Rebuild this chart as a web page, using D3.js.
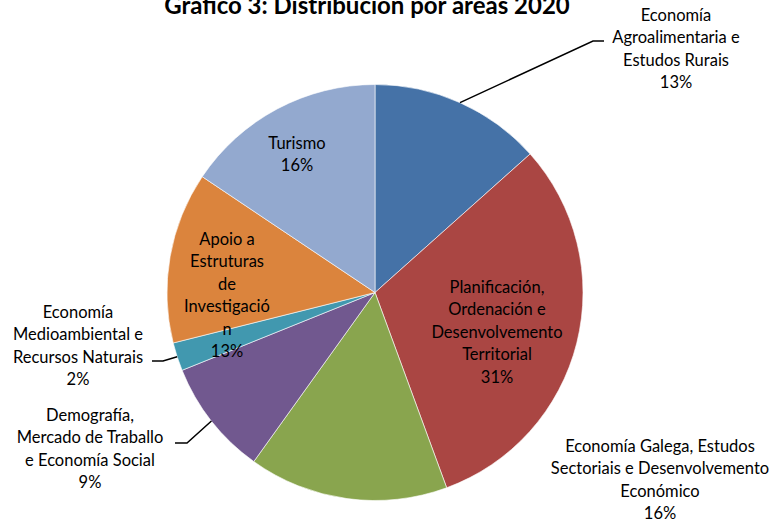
<!DOCTYPE html>
<html><head><meta charset="utf-8">
<script src="https://cdn.jsdelivr.net/npm/d3@7"></script>
<style>body{margin:0;background:#fff}svg{display:block}text{font-family:Lato,"Open Sans",sans-serif;fill:#000}</style>
</head><body><div id="chart"></div>
<script>
const categories = [
  "Economía Agroalimentaria e Estudos Rurais",
  "Planificación, Ordenación e Desenvolvemento Territorial",
  "Economía Galega, Estudos Sectoriais e Desenvolvemento Económico",
  "Demografía, Mercado de Traballo e Economía Social",
  "Economía Medioambiental e Recursos Naturais",
  "Apoio a Estruturas de Investigación",
  "Turismo"
];
const values = [13.4, 31.0, 15.5, 9.0, 2.2, 13.3, 15.6];
const percentLabels = ["13%", "31%", "16%", "9%", "2%", "13%", "16%"];
const labelLines = [
  ["Economía", "Agroalimentaria e", "Estudos Rurais"],
  ["Planificación,", "Ordenación e", "Desenvolvemento", "Territorial"],
  ["Economía Galega, Estudos", "Sectoriais e Desenvolvemento", "Económico"],
  ["Demografía,", "Mercado de Traballo", "e Economía Social"],
  ["Economía", "Medioambiental e", "Recursos Naturais"],
  ["Apoio a", "Estruturas", "de", "Investigació", "n"],
  ["Turismo"]
];
const colors = ["#4572A7", "#AA4643", "#89A54E", "#71588F", "#4198AF", "#DB843D", "#93A9CF"];

// layout (label block center x, first-line center y, leader elbow)
const labelLayout = [
  {x: 676, y: 15, leader: [[593, 41], [604, 41]]},
  {x: 497, y: 287},
  {x: 660, y: 446},
  {x: 90, y: 415, leader: [[187, 443], [175, 443]]},
  {x: 78, y: 312, leader: [[163, 361], [152, 361]]},
  {x: 227, y: 239},
  {x: 297, y: 143}
];

const W = 779, H = 525;
const cx = 375, cy = 292.5, R = 208;
const lineH = 22.5;

const svg = d3.select("#chart").append("svg").attr("width", W).attr("height", H);

svg.append("text").attr("x", 367).attr("y", 14).attr("text-anchor", "middle")
  .style("font-size", "24px").style("font-weight", "bold")
  .text("Gráfico 3: Distribución por áreas 2020");

const pie = d3.pie().sort(null).value(d => d);
const arcs = pie(values);
const arc = d3.arc().innerRadius(0).outerRadius(R);

const g = svg.append("g").attr("transform", `translate(${cx},${cy})`);
g.selectAll("path").data(arcs).join("path")
  .attr("d", arc).attr("fill", (d, i) => colors[i])
  .attr("stroke", "#fff").attr("stroke-width", 0.6);

// leader lines
arcs.forEach((d, i) => {
  const L = labelLayout[i];
  if (!L.leader) return;
  const a = (d.startAngle + d.endAngle) / 2;
  const p0 = [cx + R * Math.sin(a), cy - R * Math.cos(a)];
  const pts = [p0, ...L.leader];
  svg.append("path").attr("d", d3.line()(pts))
    .attr("fill", "none").attr("stroke", "#000").attr("stroke-width", 1.5);
});

// labels
arcs.forEach((d, i) => {
  const L = labelLayout[i];
  const lines = labelLines[i].concat([percentLabels[i]]);
  const t = svg.append("text").attr("text-anchor", "middle").style("font-size", "16.5px");
  lines.forEach((ln, k) => {
    t.append("tspan").attr("x", L.x).attr("y", L.y + k * lineH).attr("dy", "0.35em").text(ln);
  });
});
</script></body></html>
